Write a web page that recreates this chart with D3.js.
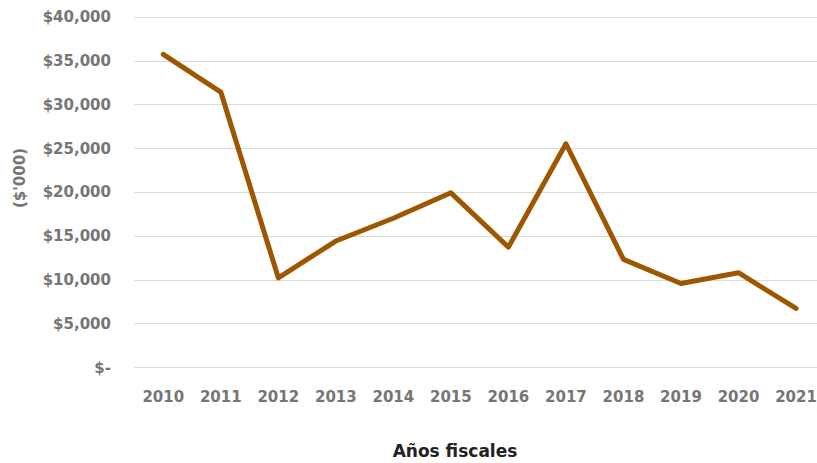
<!DOCTYPE html>
<html><head><meta charset="utf-8">
<script src="https://cdn.jsdelivr.net/npm/d3@7"></script>
<style>body{margin:0;background:#fff}svg{display:block}</style>
</head><body><svg id="c" width="817" height="463"></svg>
<script>
const years = ["2010","2011","2012","2013","2014","2015","2016","2017","2018","2019","2020","2021"];
const values = [35700,31400,10200,14400,17000,19900,13700,25500,12300,9550,10780,6700];
const yTicks = [0,5000,10000,15000,20000,25000,30000,35000,40000];
const yTitle = "($'000)";
const xTitle = "Años fiscales";

const svg = d3.select("#c");
const font = "'DejaVu Sans', sans-serif";
const x = d3.scaleBand().domain(years).range([134.5, 824.8]);
const y = d3.scaleLinear().domain([0,40000]).range([367.2, 16.7]);
const fmt = v => v === 0 ? "$-" : "$" + d3.format(",")(v);

// grid
svg.append("g").selectAll("line").data(yTicks).join("line")
  .attr("x1", 134.5).attr("x2", 824.8)
  .attr("y1", d => Math.round(y(d)) + 0.5).attr("y2", d => Math.round(y(d)) + 0.5)
  .attr("stroke", "#d9d9d9").attr("stroke-width", 1);

// y labels
svg.append("g").selectAll("text").data(yTicks).join("text")
  .attr("x", 111).attr("y", d => y(d)).attr("dy", "0.36em")
  .attr("text-anchor", "end").attr("font-family", font).attr("font-weight", "bold")
  .attr("font-size", 15).attr("fill", "#757575").text(fmt);

// x labels
svg.append("g").selectAll("text").data(years).join("text")
  .attr("x", d => x(d) + x.bandwidth()/2).attr("y", 401.5)
  .attr("text-anchor", "middle").attr("font-family", font).attr("font-weight", "bold")
  .attr("font-size", 15).attr("fill", "#757575").text(d => d);

// line
const line = d3.line().x((d,i) => x(years[i]) + x.bandwidth()/2).y(d => y(d));
svg.append("path").datum(values).attr("d", line)
  .attr("fill", "none").attr("stroke", "#9c5700").attr("stroke-width", 5)
  .attr("stroke-linejoin", "round").attr("stroke-linecap", "round");

// titles
svg.append("text").attr("transform", "translate(25,178) rotate(-90)")
  .attr("text-anchor", "middle").attr("font-family", font).attr("font-weight", "bold")
  .attr("font-size", 15).attr("fill", "#757575").text(yTitle);
svg.append("text").attr("x", 455).attr("y", 457)
  .attr("text-anchor", "middle").attr("font-family", font).attr("font-weight", "bold")
  .attr("font-size", 17).attr("fill", "#222").text(xTitle);
</script></body></html>
